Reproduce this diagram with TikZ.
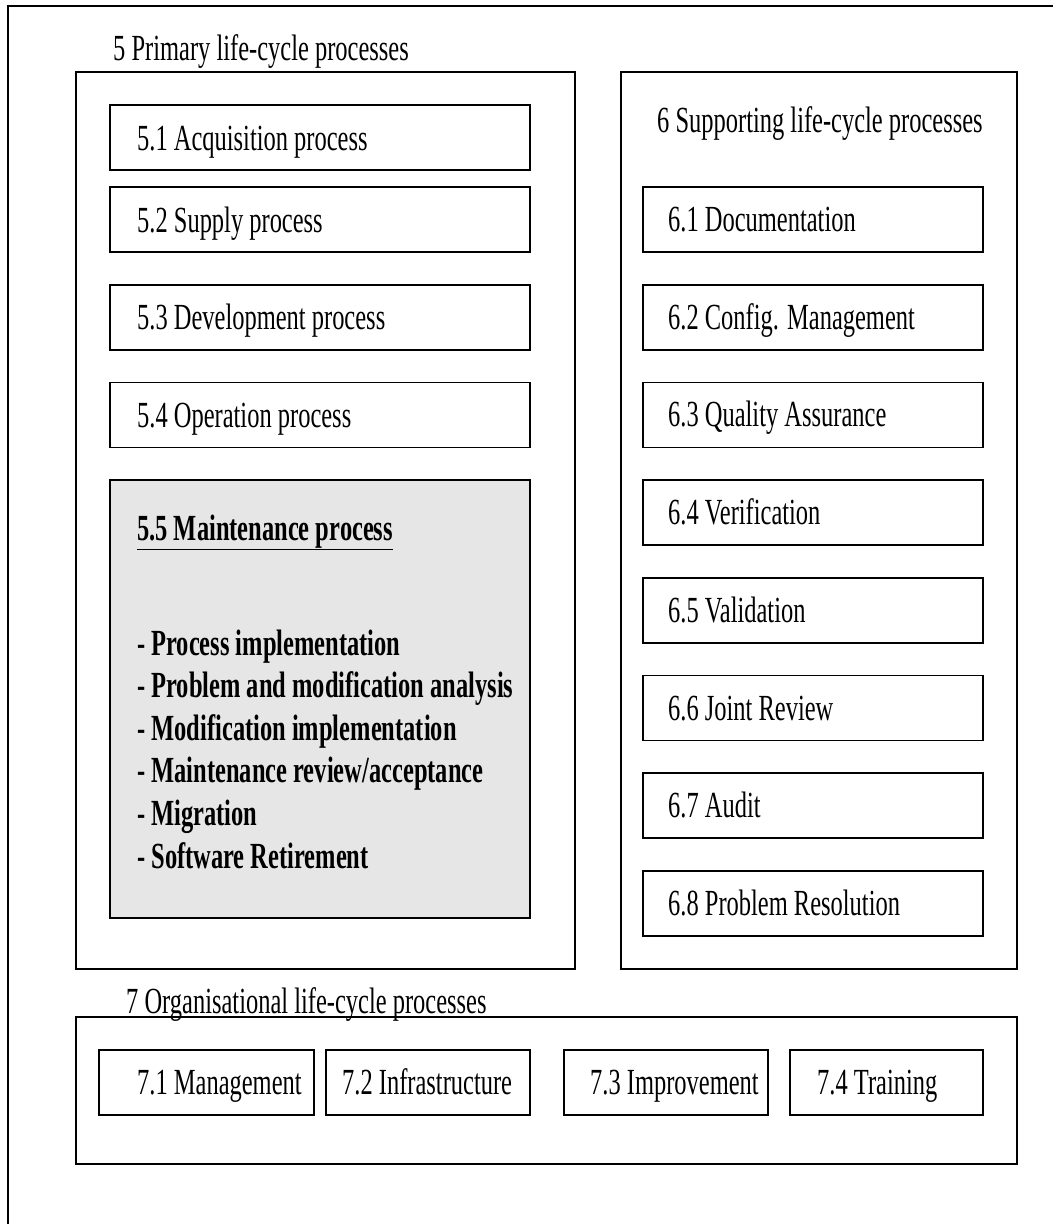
\documentclass[tikz,border=0pt]{standalone}
\usepackage{fontspec}
\setmainfont{Liberation Serif}[FakeStretch=0.665]
\definecolor{boxgray}{RGB}{230,230,230}
\begin{document}
\begin{tikzpicture}[x=1pt,y=-1pt,
  frame/.style={line width=1.8pt},
  groupbox/.style={draw, line width=1.6pt, inner sep=0pt},
  procbox/.style={draw, line width=1.6pt, inner sep=0pt, minimum height=65pt},
  lbl/.style={anchor=base west, inner sep=0pt, font=\fontsize{36.8}{44}\selectfont},
  item/.style={anchor=base west, inner sep=0pt, font=\bfseries\fontsize{36.8}{44}\selectfont}]
\useasboundingbox (0,0) rectangle (1053,1224);

% page frame (left and top edges only)
\draw[frame] (8,1224) -- (8,6) -- (1053,6);

% ---- 5 Primary life-cycle processes ----
\node[lbl] (tprim) at (113,60) {5 Primary life-cycle processes};
\node[groupbox, minimum width=499pt, minimum height=897pt] (prim) at (325.5,520.5) {};

\node[procbox, minimum width=420pt] (p1) at (320,137.5) {};
\node[lbl] (lp1) at (137,150) {5.1 Acquisition process};
\node[procbox, minimum width=420pt] (p2) at (320,219.5) {};
\node[lbl] (lp2) at (137,232) {5.2 Supply process};
\node[procbox, minimum width=420pt] (p3) at (320,317.2) {};
\node[lbl] (lp3) at (137,329.7) {5.3 Development process};
\node[procbox, minimum width=420pt] (p4) at (320,414.9) {};
\node[lbl] (lp4) at (137,427.4) {5.4 Operation process};

% maintenance process, highlighted
\node[groupbox, fill=boxgray, minimum width=420pt, minimum height=438pt] (p5) at (320,699) {};
\node[item] (lp5) at (137,540) {\underline{5.5 Maintenance process}};
\foreach \t [count=\i from 0] in {Process implementation,
    Problem and modification analysis,
    Modification implementation,
    Maintenance review/acceptance,
    Migration,
    Software Retirement}
  \node[item] (m\i) at (137,655+42.6*\i) {- \t};

% ---- 6 Supporting life-cycle processes ----
\node[groupbox, minimum width=396pt, minimum height=897pt] (supp) at (819,520.5) {};
\node[lbl] (tsupp) at (657,132) {6 Supporting life-cycle processes};
\foreach \t [count=\i] in {Documentation, Config. Management, Quality Assurance,
    Verification, Validation, Joint Review, Audit, Problem Resolution} {
  \node[procbox, minimum width=340pt] (s\i) at (813,219.5+97.7*\i-97.7) {};
  \node[lbl] (ls\i) at (668,231.5+97.7*\i-97.7) {6.\i\ \t};
}

% ---- 7 Organisational life-cycle processes ----
\node[groupbox, minimum width=941pt, minimum height=147pt] (org) at (546.5,1090.5) {};
\node[lbl] (torg) at (126,1013) {7 Organisational life-cycle processes};
\node[procbox, minimum width=215pt] (o1) at (206.5,1082.5) {};
\node[lbl] (lo1) at (137,1094.5) {7.1 Management};
\node[procbox, minimum width=204pt] (o2) at (428,1082.5) {};
\node[lbl] (lo2) at (342,1094.5) {7.2 Infrastructure};
\node[procbox, minimum width=204pt] (o3) at (666,1082.5) {};
\node[lbl] (lo3) at (590,1094.5) {7.3 Improvement};
\node[procbox, minimum width=193pt] (o4) at (886.5,1082.5) {};
\node[lbl] (lo4) at (817,1094.5) {7.4 Training};
\end{tikzpicture}
\end{document}
